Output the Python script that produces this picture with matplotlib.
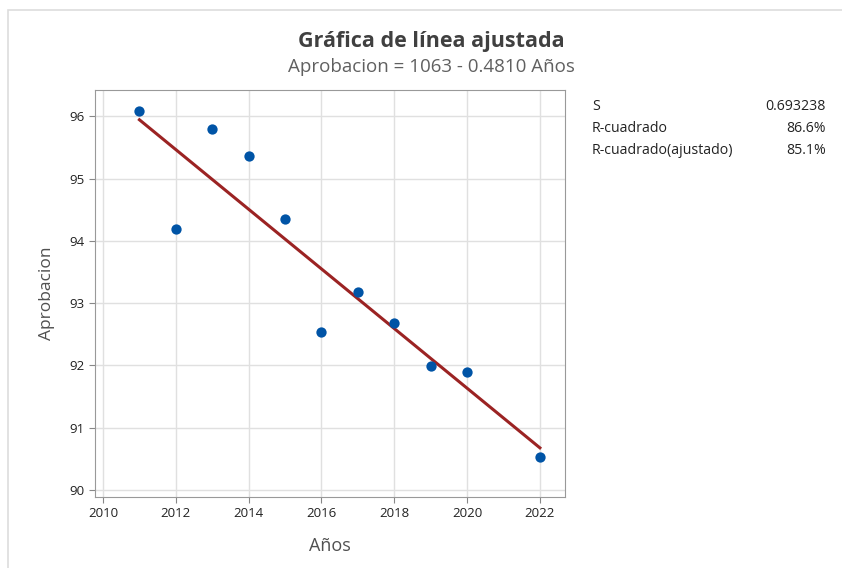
import numpy as np
import matplotlib.pyplot as plt
from matplotlib.patches import Rectangle

plt.rcParams['font.family'] = ['Open Sans', 'DejaVu Sans']

# datos
anios = [2011, 2012, 2013, 2014, 2015, 2016, 2017, 2018, 2019, 2020, 2022]
aprobacion = [96.08, 94.19, 95.79, 95.36, 94.35, 92.53, 93.18, 92.68, 91.99, 91.89, 90.53]
xticks = [2010, 2012, 2014, 2016, 2018, 2020, 2022]
yticks = [90, 91, 92, 93, 94, 95, 96]
stats_labels = ['S', 'R-cuadrado', 'R-cuadrado(ajustado)']
stats_values = ['0.693238', '86.6%', '85.1%']

x = np.array(anios)
y = np.array(aprobacion)
m, b = np.polyfit(x, y, 1)
xl = np.array([x.min(), x.max()])

fig = plt.figure(figsize=(8.42, 5.68), dpi=100)
ax = fig.add_axes([95/842, 1 - 497/568, 470/842, 407/568])

ax.grid(True, color='#e0e0e0', lw=1)
ax.set_axisbelow(True)
ax.plot(xl, m*xl + b, color='#9b2323', lw=2.2, zorder=2)
ax.scatter(x, y, s=55, color='#0054a6', zorder=3, linewidths=0)

ax.set_xlim(2009.78, 2022.69)
ax.set_ylim(89.89, 96.42)
ax.set_xticks(xticks)
ax.set_yticks(yticks)
ax.tick_params(labelsize=9.5, colors='#222222', length=4, color='#888888')
for s in ax.spines.values():
    s.set_color('#999999')

ax.set_xlabel('Años', fontsize=13, color='#505050', labelpad=12)
ax.set_ylabel('Aprobacion', fontsize=12.5, color='#505050', labelpad=10)

fig.text(431/842, 1 - 41/568, 'Gráfica de línea ajustada', ha='center', va='center',
         fontsize=15.5, fontweight='bold', color='#404040')
fig.text(431/842, 1 - 67/568, 'Aprobacion = 1063 - 0.4810 Años', ha='center', va='center',
         fontsize=13.5, color='#606060')

for i, (lab, val) in enumerate(zip(stats_labels, stats_values)):
    yy = 1 - (107 + i*21.5)/568
    fig.text(592/842, yy, lab, ha='left', va='center', fontsize=10.2, color='#222222')
    fig.text(826/842, yy, val, ha='right', va='center', fontsize=10.2, color='#222222')

# marco gris claro
fig.patches.append(Rectangle((8/842, -0.05), 1.1, 1 - 10/568 + 0.05, transform=fig.transFigure,
                             fill=False, edgecolor='#dddddd', lw=1.2))

fig.savefig('out.png', dpi=100)
